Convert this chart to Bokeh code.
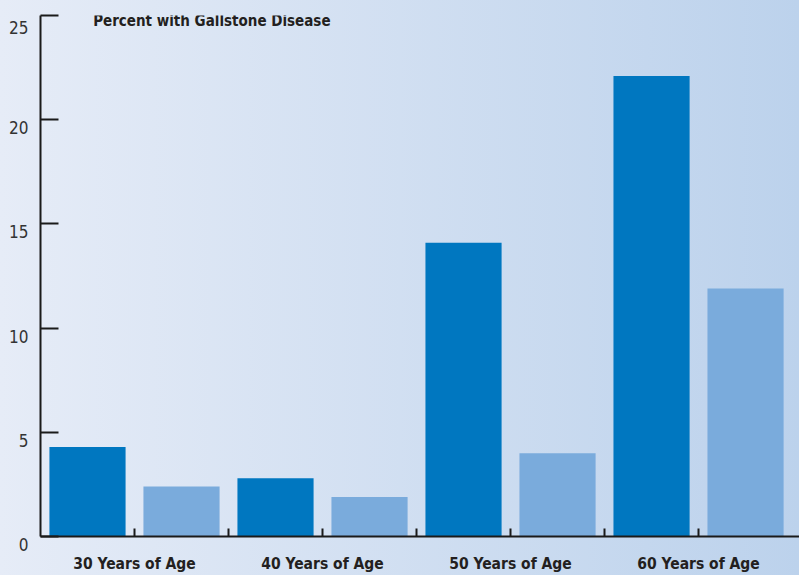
from bokeh.plotting import figure
from bokeh.models import Range1d, FixedTicker, Label
from bokeh.embed import file_html
from bokeh.resources import INLINE

# ---- data ----
groups = ["30 Years of Age", "40 Years of Age", "50 Years of Age", "60 Years of Age"]
dark_values = [4.3, 2.8, 14.1, 22.1]
light_values = [2.4, 1.9, 4.0, 11.9]
y_ticks = [0, 5, 10, 15, 20, 25]
title_text = "Percent with Gallstone Disease"

DARK = "#0077c0"
LIGHT = "#7aabdc"
FONT = "DejaVu Sans Condensed"

p = figure(width=799, height=575, output_backend="svg", toolbar_location=None,
           x_range=Range1d(0, 8.074), y_range=Range1d(0, 25),
           min_border_left=40, min_border_right=0, min_border_top=15, min_border_bottom=38)
p.styles = {"background": "linear-gradient(to right, #e6ecf7, #bcd2ec)"}
p.background_fill_alpha = 0
p.border_fill_alpha = 0
p.outline_line_color = None
p.xgrid.visible = False
p.ygrid.visible = False

dark_x = [2 * i + 0.5 for i in range(len(groups))]
light_x = [2 * i + 1.5 for i in range(len(groups))]
p.vbar(x=dark_x, top=dark_values, bottom=0, width=0.81, fill_color=DARK, line_color=None)
p.vbar(x=light_x, top=light_values, bottom=0, width=0.81, fill_color=LIGHT, line_color=None)

# x axis
label_pos = [2 * i + 1 for i in range(len(groups))]
p.xaxis.ticker = FixedTicker(ticks=label_pos, minor_ticks=[2, 4, 6])
p.xaxis.major_label_overrides = {pos: g for pos, g in zip(label_pos, groups)}
p.xaxis.major_tick_in = 8
p.xaxis.major_tick_out = 0
p.xaxis.minor_tick_in = 8
p.xaxis.minor_tick_out = 0
p.xaxis.axis_line_width = 2
p.xaxis.axis_line_color = "#1a1a1a"
p.xaxis.major_tick_line_width = 2
p.xaxis.minor_tick_line_width = 2
p.xaxis.major_tick_line_color = "#1a1a1a"
p.xaxis.minor_tick_line_color = "#1a1a1a"
p.xaxis.major_label_text_font = FONT
p.xaxis.major_label_text_font_style = "bold"
p.xaxis.major_label_text_font_size = "15.5px"
p.xaxis.major_label_text_color = "#231f20"
p.xaxis.major_label_standoff = 18

# y axis: labels sit a little below their ticks, as in the reference
p.yaxis.ticker = FixedTicker(ticks=y_ticks)
p.yaxis.major_label_overrides = {t: "\n" + str(t) for t in y_ticks}
p.yaxis.major_tick_in = 18
p.yaxis.major_tick_out = 0
p.yaxis.minor_tick_in = 0
p.yaxis.minor_tick_out = 0
p.yaxis.axis_line_width = 2
p.yaxis.axis_line_color = "#1a1a1a"
p.yaxis.major_tick_line_width = 2
p.yaxis.major_tick_line_color = "#1a1a1a"
p.yaxis.major_label_text_font = FONT
p.yaxis.major_label_text_font_size = "17px"
p.yaxis.major_label_text_color = "#333333"
p.yaxis.major_label_text_line_height = 0.85
p.yaxis.major_label_standoff = 12

title = Label(x=0.56, y=24.75, text=title_text, text_font=FONT, text_font_style="bold",
              text_font_size="15px", text_color="#231f20", text_baseline="middle")
p.add_layout(title)

open("out.html", "w").write(file_html(p, INLINE))
